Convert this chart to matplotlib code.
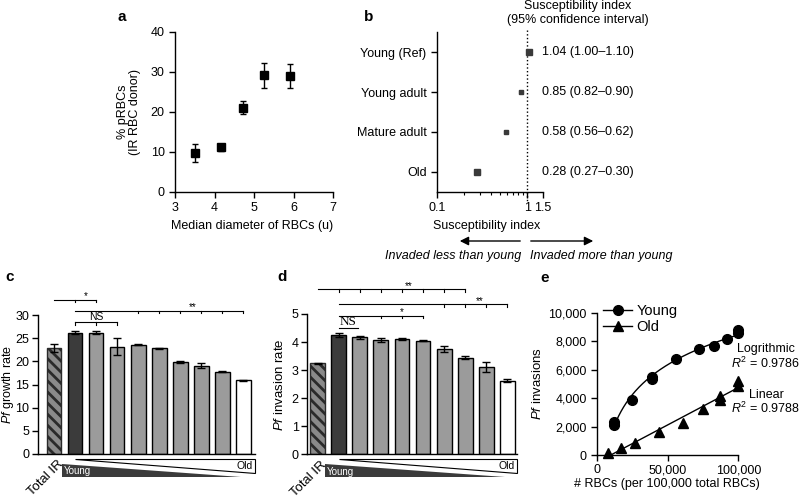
import matplotlib
matplotlib.use('Agg')
import matplotlib.pyplot as plt
import numpy as np
from matplotlib.lines import Line2D
from matplotlib.patches import Polygon
from matplotlib.ticker import FixedLocator, NullFormatter, FuncFormatter
import matplotlib.transforms as mtrans

plt.rcParams['font.family'] = ['Liberation Sans', 'DejaVu Sans']
plt.rcParams['font.size'] = 9
plt.rcParams['mathtext.fontset'] = 'custom'
plt.rcParams['mathtext.rm'] = 'Liberation Sans'
plt.rcParams['mathtext.it'] = 'Liberation Sans:italic'
plt.rcParams['axes.linewidth'] = 1.0
plt.rcParams['xtick.major.width'] = 1.0
plt.rcParams['ytick.major.width'] = 1.0
plt.rcParams['xtick.major.size'] = 4
plt.rcParams['ytick.major.size'] = 4
plt.rcParams['hatch.linewidth'] = 2.0

# ---- data ----
# a
diam = [3.5, 4.17, 4.71, 5.25, 5.92]
prbc = [9.7, 11.2, 21.1, 29.2, 28.9]
prbc_lo = [7.5, 10.3, 19.6, 25.9, 25.9]
prbc_hi = [12.1, 12.1, 22.8, 32.3, 32.0]

# b
groups = ['Young (Ref)', 'Young adult', 'Mature adult', 'Old']
si = [1.04, 0.85, 0.58, 0.28]
si_lo = [1.00, 0.82, 0.56, 0.27]
si_hi = [1.10, 0.90, 0.62, 0.30]
si_ms = [4.5, 3.2, 3.2, 4.5]

# c
growth = [22.8, 26.2, 26.2, 23.2, 23.6, 22.8, 19.9, 19.1, 17.8, 15.9]
growth_err = [0.85, 0.3, 0.4, 1.9, 0.1, 0.15, 0.2, 0.6, 0.1, 0.1]

# d
invasion = [3.25, 4.25, 4.17, 4.07, 4.11, 4.05, 3.76, 3.44, 3.11, 2.62]
invasion_err = [0.02, 0.07, 0.05, 0.08, 0.03, 0.03, 0.1, 0.05, 0.18, 0.05]

bar_colors = ['#8a8a8a', '#3b3b3b'] + ['#9b9b9b'] * 7 + ['white']

# e
young_x = [12000, 12000, 24800, 38500, 38500, 55800, 72300, 83000, 91700, 100000, 100000]
young_y = [2350, 2100, 3880, 5480, 5340, 6750, 7480, 7650, 8120, 8780, 8600]
old_x = [7800, 16800, 26700, 43700, 61000, 75200, 87000, 87000, 100000, 100000]
old_y = [165, 518, 870, 1600, 2280, 3250, 4120, 3840, 5180, 4870]

W, H = 800, 499
fig = plt.figure(figsize=(8, 4.99), dpi=100)


def px_axes(l, r, t, b):
    return fig.add_axes([l / W, 1 - b / H, (r - l) / W, (b - t) / H])


def clean(ax):
    ax.spines['top'].set_visible(False)
    ax.spines['right'].set_visible(False)
    ax.tick_params(direction='out', labelsize=9)


# ---- panel a ----
ax = px_axes(175, 333, 32, 192)
clean(ax)
yerr = [np.array(prbc) - np.array(prbc_lo), np.array(prbc_hi) - np.array(prbc)]
ax.errorbar(diam, prbc, yerr=yerr, fmt='s', color='k', ms=5.5, capsize=2.5,
            elinewidth=1, capthick=1)
ax.set_xlim(3, 7)
ax.set_ylim(0, 40)
ax.set_xticks([3, 4, 5, 6, 7])
ax.set_yticks([0, 10, 20, 30, 40])
ax.set_xlabel('Median diameter of RBCs (u)', fontsize=9)
ax.xaxis.set_label_coords(0.485, -0.175)
ax.set_ylabel('% pRBCs\n(IR RBC donor)', fontsize=9, linespacing=1.0)
ax.yaxis.set_label_coords(-0.215, 0.5)
fig.text(117 / W, 1 - 17 / H, 'a', fontsize=11, fontweight='bold', va='center')

# ---- panel b ----
ax = px_axes(437, 543, 32, 192)
clean(ax)
ypos = np.arange(len(groups))[::-1]
for yy, v, lo, hi, ms in zip(ypos, si, si_lo, si_hi, si_ms):
    ax.errorbar([v], [yy], xerr=[[v - lo], [hi - v]], fmt='s', color='#3a3a3a',
                ms=ms, capsize=1.5, elinewidth=0.8, capthick=0.8)
ax.set_xscale('log')
ax.set_xlim(0.1, 1.5)
ax.set_ylim(-0.5, 3.5)
ax.set_xticks([0.1, 1, 1.5])
ax.set_xticklabels(['0.1', '1', '1.5'])
ax.xaxis.set_minor_locator(FixedLocator([0.2, 0.3, 0.4, 0.5, 0.6, 0.7, 0.8, 0.9]))
ax.xaxis.set_minor_formatter(NullFormatter())
ax.tick_params(axis='x', which='minor', length=2.5, width=0.8)
ax.set_yticks(ypos)
ax.set_yticklabels(groups, fontsize=9)
ax.plot([1, 1], [3.55, -0.78], ls=':', color='k', lw=1, clip_on=False)
tr = mtrans.blended_transform_factory(ax.transAxes, ax.transData)
for yy, v, lo, hi in zip(ypos, si, si_lo, si_hi):
    ax.text(0.99, yy, '%.2f (%.2f\u2013%.2f)' % (v, lo, hi), transform=tr,
            ha='left', va='center', fontsize=9)
ax.set_xlabel('Susceptibility index', fontsize=9)
ax.xaxis.set_label_coords(0.47, -0.175)
fig.text(578 / W, 1 - 13 / H, 'Susceptibility index\n(95% confidence interval)',
         ha='center', va='center', fontsize=9, linespacing=1.3)
ya = 1 - 241 / H
ax.annotate('', xy=(457 / W, ya), xytext=(523 / W, ya), xycoords='figure fraction',
            arrowprops=dict(arrowstyle='-|>', color='k', lw=1, mutation_scale=13),
            annotation_clip=False)
ax.annotate('', xy=(596 / W, ya), xytext=(528 / W, ya), xycoords='figure fraction',
            arrowprops=dict(arrowstyle='-|>', color='k', lw=1, mutation_scale=13),
            annotation_clip=False)
fig.text(453 / W, 1 - 256 / H, 'Invaded less than young', style='italic',
         ha='center', va='center', fontsize=9)
fig.text(601 / W, 1 - 256 / H, 'Invaded more than young', style='italic',
         ha='center', va='center', fontsize=9)
fig.text(364 / W, 1 - 17 / H, 'b', fontsize=11, fontweight='bold', va='center')


def bar_panel(ax, vals, errs, width, xl):
    x = np.arange(len(vals))
    bars = ax.bar(x, vals, width=width, color=bar_colors, edgecolor='k', lw=1,
                  yerr=errs, capsize=3, error_kw=dict(lw=1, capthick=1, ecolor='k'))
    bars[0].set_hatch('\\\\\\')
    bars[0].set_edgecolor('#2a2a2a')
    ax.set_xlim(*xl)
    ax.set_xticks([])
    ax.spines['top'].set_visible(False)
    ax.spines['right'].set_visible(False)
    ax.tick_params(direction='out', labelsize=9, pad=2)
    bt = mtrans.blended_transform_factory(ax.transData, ax.transAxes)
    xr = xl[1]
    ax.add_patch(Polygon([[1, -0.035], [xr, -0.035], [xr, -0.135]], closed=True,
                         facecolor='white', edgecolor='k', lw=0.8,
                         transform=bt, clip_on=False))
    ax.add_patch(Polygon([[0.36, -0.07], [0.36, -0.165], [8.9, -0.165]], closed=True,
                         facecolor='#3b3b3b', edgecolor='none',
                         transform=bt, clip_on=False))
    ax.text(xr - 0.1, -0.083, 'Old', transform=bt, ha='right', va='center', fontsize=7.5)
    ax.text(0.45, -0.125, 'Young', transform=bt, ha='left', va='center',
            fontsize=7, color='white')
    ax.text(0.15, -0.03, 'Total IR', transform=bt, rotation=45, rotation_mode='anchor',
            ha='right', va='top', fontsize=9.5)


def bracket(ax, x0, x1, y, ticks, tlen):
    ax.plot([x0, x1], [y, y], color='k', lw=0.8, clip_on=False)
    for t in ticks:
        ax.plot([t, t], [y, y - tlen], color='k', lw=0.8, clip_on=False)


# ---- panel c ----
ax = px_axes(37.7, 255, 315, 454)
bar_panel(ax, growth, growth_err, 0.69, (-0.78, 9.55))
ax.set_ylim(0, 30)
ax.set_yticks([0, 5, 10, 15, 20, 25, 30])
ax.set_ylabel(r'$\it{Pf}$ growth rate', fontsize=9)
ax.yaxis.set_label_coords(-0.1, 0.5)
bracket(ax, 0, 2, 33.2, [1, 2], 0.5)
ax.text(1.5, 33.4, '*', ha='center', va='baseline', fontsize=7)
bracket(ax, 1, 9, 30.9, [4, 5, 6, 7, 8, 9], 0.5)
ax.text(6.6, 31.1, '**', ha='center', va='baseline', fontsize=7)
bracket(ax, 1, 3, 28.4, [1, 2, 3], 0.5)
ax.text(2, 28.85, 'NS', ha='center', va='baseline', fontsize=7.5)
fig.text(5 / W, 1 - 277 / H, 'c', fontsize=11, fontweight='bold', va='center')

# ---- panel d ----
ax = px_axes(307, 516.7, 314, 454.3)
bar_panel(ax, invasion, invasion_err, 0.7, (-0.5, 9.44))
ax.set_ylim(0, 5)
ax.set_yticks([0, 1, 2, 3, 4, 5])
ax.set_ylabel(r'$\it{Pf}$ invasion rate', fontsize=9.5)
ax.yaxis.set_label_coords(-0.1, 0.5)
bracket(ax, 0, 7, 5.88, [1, 2, 3, 4, 5, 6, 7], 0.09)
ax.text(4.3, 5.9, '**', ha='center', va='baseline', fontsize=7)
bracket(ax, 1, 9, 5.34, [6, 7, 8, 9], 0.09)
ax.text(7.7, 5.36, '**', ha='center', va='baseline', fontsize=7)
bracket(ax, 1, 5, 4.94, [3, 4, 5], 0.09)
ax.text(4, 4.96, '*', ha='center', va='baseline', fontsize=7)
ax.plot([1, 1.9], [4.51, 4.51], color='k', lw=0.8, clip_on=False)
ax.text(1.46, 4.6, 'NS', ha='center', va='baseline', fontsize=9.5,
        family=['Liberation Serif', 'DejaVu Serif'])
fig.text(277 / W, 1 - 277 / H, 'd', fontsize=11, fontweight='bold', va='center')

# ---- panel e ----
ax = px_axes(597.3, 738.3, 312.7, 455)
clean(ax)
ax.tick_params(axis='x', pad=2.5)
ax.plot(young_x, young_y, 'o', color='k', ms=7, clip_on=False)
ax.plot(old_x, old_y, '^', color='k', ms=7, clip_on=False)
ka, kb = np.polyfit(np.log(young_x), young_y, 1)
xs = np.linspace(min(young_x), max(young_x), 200)
ax.plot(xs, ka * np.log(xs) + kb, color='k', lw=1)
la, lb = np.polyfit(old_x, old_y, 1)
xs = np.linspace(-lb / la, max(old_x), 200)
ax.plot(xs, la * xs + lb, color='k', lw=1)
ax.set_xlim(0, 100000)
ax.set_ylim(0, 10000)
ax.set_xticks([0, 50000, 100000])
ax.set_yticks([0, 2000, 4000, 6000, 8000, 10000])
comma = FuncFormatter(lambda v, p: '{:,.0f}'.format(v))
ax.xaxis.set_major_formatter(comma)
ax.yaxis.set_major_formatter(comma)
ax.set_xlabel('# RBCs (per 100,000 total RBCs)', fontsize=9)
ax.xaxis.set_label_coords(0.49, -0.16)
ax.set_ylabel(r'$\it{Pf}$ invasions', fontsize=9.5)
ax.yaxis.set_label_coords(-0.375, 0.5)
handles = [Line2D([], [], color='k', marker='o', ms=7, lw=1),
           Line2D([], [], color='k', marker='^', ms=7, lw=1)]
ax.legend(handles, ['Young', 'Old'], loc='upper left', bbox_to_anchor=(0.04, 1.06),
          frameon=False, handlelength=2.0, handletextpad=0.3, labelspacing=0.1,
          fontsize=10.5, borderaxespad=0, borderpad=0)
fig.text(766 / W, 1 - 349 / H, 'Logrithmic', ha='center', va='center', fontsize=9)
fig.text(800 / W, 1 - 363 / H, r'$R^2$ = 0.9786', ha='right', va='center', fontsize=9)
fig.text(766 / W, 1 - 395 / H, 'Linear', ha='center', va='center', fontsize=9)
fig.text(800 / W, 1 - 408 / H, r'$R^2$ = 0.9788', ha='right', va='center', fontsize=9)
fig.text(540 / W, 1 - 278 / H, 'e', fontsize=11, fontweight='bold', va='center')

fig.savefig('out.png', dpi=100)
